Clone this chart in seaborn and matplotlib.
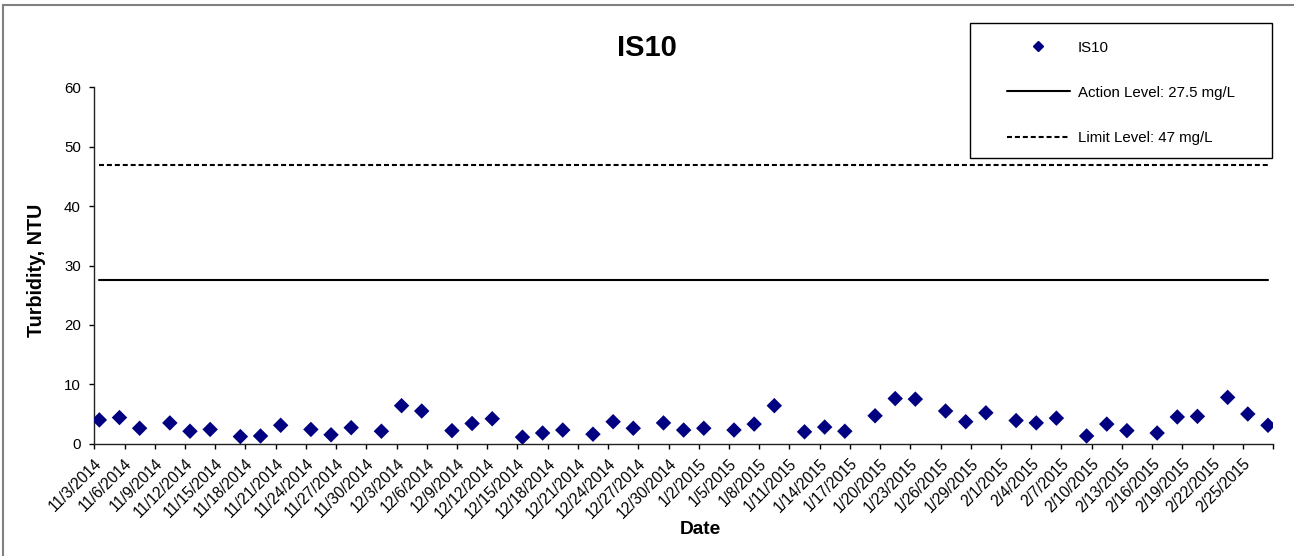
import pandas as pd
import seaborn as sns
import matplotlib.pyplot as plt
from matplotlib.lines import Line2D
from matplotlib.patches import Rectangle

# sample dates and turbidity readings
sample_dates = [
    '2014-11-03', '2014-11-05', '2014-11-07', '2014-11-10', '2014-11-12', '2014-11-14',
    '2014-11-17', '2014-11-19', '2014-11-21', '2014-11-24', '2014-11-26', '2014-11-28',
    '2014-12-01', '2014-12-03', '2014-12-05', '2014-12-08', '2014-12-10', '2014-12-12',
    '2014-12-15', '2014-12-17', '2014-12-19', '2014-12-22', '2014-12-24', '2014-12-26',
    '2014-12-29', '2014-12-31',
    '2015-01-02', '2015-01-05', '2015-01-07', '2015-01-09', '2015-01-12', '2015-01-14',
    '2015-01-16', '2015-01-19', '2015-01-21', '2015-01-23', '2015-01-26', '2015-01-28',
    '2015-01-30',
    '2015-02-02', '2015-02-04', '2015-02-06', '2015-02-09', '2015-02-11', '2015-02-13',
    '2015-02-16', '2015-02-18', '2015-02-20', '2015-02-23', '2015-02-25', '2015-02-27',
]
turbidity = [
    4.0, 4.4, 2.6, 3.5, 2.1, 2.4, 1.2, 1.3, 3.1, 2.4, 1.5, 2.7,
    2.1, 6.4, 5.5, 2.2, 3.4, 4.2, 1.1, 1.8, 2.3, 1.6, 3.7, 2.6, 3.5, 2.3,
    2.6, 2.3, 3.3, 6.4, 2.0, 2.8, 2.1, 4.7, 7.6, 7.5, 5.5, 3.7, 5.2,
    3.9, 3.5, 4.3, 1.3, 3.3, 2.2, 1.8, 4.5, 4.6, 7.8, 5.0, 3.1,
]
action_level = 27.5
limit_level = 47
axis_start = '2014-11-03'
axis_end = '2015-02-28'
y_ticks = [0, 10, 20, 30, 40, 50, 60]

sns.set_style('white')
plt.rcParams['font.family'] = ['Liberation Sans', 'DejaVu Sans']
plt.rcParams['text.color'] = 'black'
plt.rcParams['xtick.color'] = 'black'
plt.rcParams['ytick.color'] = 'black'

W, H = 1294, 556
fig = plt.figure(figsize=(W / 100, H / 100), dpi=100)
ax = fig.add_axes([94.3 / W, 1 - 443.7 / H, (1273 - 94.3) / W, (443.7 - 87.3) / H])

df = pd.DataFrame({'date': pd.to_datetime(sample_dates), 'value': turbidity})
# Excel date axis: each point sits in the middle of its day
df['x'] = df['date'] + pd.Timedelta(hours=12)

sns.scatterplot(data=df, x='x', y='value', marker='D', s=62, color='#000080',
                edgecolor='none', ax=ax, legend=False, zorder=3)

line_x = [df['x'].iloc[0], df['x'].iloc[-1]]
ax.plot(line_x, [action_level] * 2, color='black', lw=1.5)
ax.plot(line_x, [limit_level] * 2, color='black', lw=1.5, dashes=(2.4, 1.4))

ticks = pd.date_range(axis_start, axis_end, freq='3D')
tick_labels = [f'{d.month}/{d.day}/{d.year}' for d in ticks]
tick_labels[-1] = ''
ax.set_xlim(pd.Timestamp(axis_start), pd.Timestamp(axis_end))
ax.set_xticks(ticks)
ax.set_xticklabels(tick_labels, rotation=45, ha='right', va='top',
                   rotation_mode='anchor', fontsize=11.2)

ax.set_ylim(0, 60)
ax.set_yticks(y_ticks)
ax.tick_params(axis='y', labelsize=10.8, length=3.6, width=1, direction='out', left=True, pad=6)
ax.tick_params(axis='x', length=3.6, width=1, direction='out', bottom=True, pad=5)
ax.set_xlabel('')
ax.set_ylabel('')
for side in ['top', 'right']:
    ax.spines[side].set_visible(False)
for side in ['left', 'bottom']:
    ax.spines[side].set_color('#222222')
    ax.spines[side].set_linewidth(1)

fig.text(0.5, 1 - 48 / H, 'IS10', ha='center', va='center', fontsize=21, weight='bold')
fig.text(700 / W, 1 - 530 / H, 'Date', ha='center', va='center', fontsize=13.8, weight='bold')
fig.text(37 / W, 1 - 270 / H, 'Turbidity, NTU', ha='center', va='center', rotation=90,
         fontsize=14.2, weight='bold')

# legend box and entries
fig.add_artist(Rectangle((970 / W, 1 - 158.3 / H), (1271.7 - 970) / W, (158.3 - 22.7) / H,
                         transform=fig.transFigure, fill=False, edgecolor='black', lw=1))
handles = [
    Line2D([], [], marker='D', markersize=5, ls='', color='#000080'),
    Line2D([], [], color='black', lw=1.5),
    Line2D([], [], color='black', lw=1.5, dashes=(2.4, 1.4)),
]
labels = ['IS10', f'Action Level: {action_level} mg/L', f'Limit Level: {limit_level} mg/L']
fig.legend(handles, labels, loc='upper left', bbox_to_anchor=(1006.7 / W, 1 - 40.5 / H),
           frameon=False, fontsize=10.8, borderpad=0, borderaxespad=0,
           handlelength=4.2, handletextpad=0.55, labelspacing=2.08, numpoints=1)

# outer chart border (only top and left visible)
fig.add_artist(Line2D([3 / W, 1], [1 - 5 / H] * 2, transform=fig.transFigure, color='#808080', lw=1.5))
fig.add_artist(Line2D([3 / W] * 2, [0, 1 - 5 / H], transform=fig.transFigure, color='#808080', lw=1.5))

fig.savefig('out.png', dpi=100)
